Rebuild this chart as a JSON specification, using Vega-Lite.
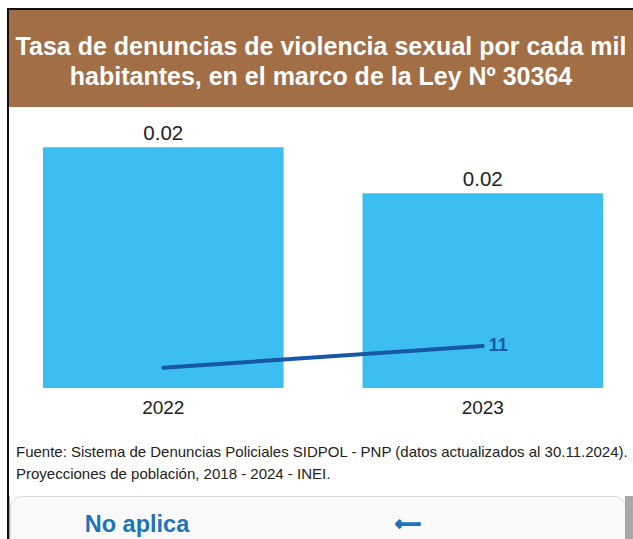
{
  "$schema": "https://vega.github.io/schema/vega-lite/v6.json",
  "background": "white",
  "padding": {"left": 7, "top": 8, "right": 0, "bottom": 0},
  "config": {"view": {"stroke": null}, "font": "Liberation Sans", "concat": {"spacing": 0}},
  "bounds": "flush",
  "spacing": 0,
  "vconcat": [
    {"width": 626, "height": 2, "view": {"fill": "#111111"}, "data": {"values": []}, "mark": "rect", "encoding": {}},
    {
      "hconcat": [
        {"width": 2, "height": 540, "view": {"fill": "#111111"}, "data": {"values": []}, "mark": "rect", "encoding": {}},
        {
          "vconcat": [
            {
              "width": 624, "height": 97,
              "view": {"fill": "#A26E46"},
              "data": {"values": [{"titulo": "Tasa de denuncias de violencia sexual por cada mil\nhabitantes, en el marco de la Ley Nº 30364"}]},
              "mark": {"type": "text", "lineBreak": "\n", "lineHeight": 30, "fontSize": 25, "fontWeight": "bold", "color": "white", "align": "center", "baseline": "middle", "dy": -11.5},
              "encoding": {"text": {"field": "titulo"}}
            },
            {
              "width": 624, "height": 281,
              "data": {"values": [
                {"anio": "2022", "tasa": 0.0242, "denuncias": 5.3},
                {"anio": "2023", "tasa": 0.01958, "denuncias": 11}
              ]},
              "encoding": {
                "x": {"field": "anio", "type": "nominal",
                  "scale": {"paddingInner": 0.247, "paddingOuter": 0.1, "align": 0.532},
                  "axis": {"title": null, "labelAngle": 0, "labelFontSize": 19, "labelColor": "#222222", "labelPadding": 10, "ticks": false, "tickSize": 0, "domain": false, "grid": false}}
              },
              "layer": [
                {
                  "encoding": {"y": {"field": "tasa", "type": "quantitative", "scale": {"domain": [0, 0.02825]}, "axis": null}},
                  "layer": [
                    {"mark": {"type": "bar", "color": "#3CBFF0"}},
                    {"mark": {"type": "text", "fontSize": 20.5, "color": "#222222", "baseline": "alphabetic", "dy": -7},
                     "encoding": {"text": {"field": "tasa", "type": "quantitative", "format": ".2f"}}}
                  ]
                },
                {
                  "encoding": {"y": {"field": "denuncias", "type": "quantitative", "scale": {"domain": [0, 73.6]}, "axis": null}},
                  "layer": [
                    {"mark": {"type": "line", "color": "#1757A6", "strokeWidth": 4, "strokeCap": "round"}},
                    {"transform": [{"filter": "datum.anio == '2023'"}],
                     "mark": {"type": "text", "align": "left", "baseline": "middle", "dx": 6, "fontSize": 18, "fontWeight": "bold", "color": "#1A5AA8"},
                     "encoding": {"text": {"field": "denuncias", "type": "quantitative", "format": "d"}}}
                  ]
                }
              ],
              "resolve": {"scale": {"y": "independent"}}
            },
            {"width": 624, "height": 108, "data": {"values": []}, "mark": "rect", "encoding": {}},
            {
              "hconcat": [
                {"width": 1, "height": 54, "view": {"fill": "#a9a9a9"}, "data": {"values": []}, "mark": "rect", "encoding": {}},
                {
                  "width": 615, "height": 54,
                  "view": {"fill": "#fafafa", "cornerRadius": 12, "stroke": "#d9d9d9"},
                  "title": {
                    "text": ["Fuente: Sistema de Denuncias Policiales SIDPOL - PNP (datos actualizados al 30.11.2024).", "Proyecciones de población, 2018 - 2024 - INEI."],
                    "anchor": "start", "fontSize": 15, "fontWeight": "normal", "color": "#222222", "lineHeight": 22, "offset": 14, "dx": 6, "frame": "group"
                  },
                  "data": {"values": [
                    {"campo": "Valor", "texto": "No aplica"},
                    {"campo": "Tendencia", "texto": "⟵"}
                  ]},
                  "encoding": {
                    "x": {"field": "campo", "type": "nominal", "sort": ["Valor", "Tendencia"], "scale": {"type": "point", "padding": 0.635, "align": 0.369}, "axis": null}
                  },
                  "layer": [
                    {"transform": [{"filter": "datum.campo == 'Valor'"}],
                     "mark": {"type": "text", "fontSize": 23.5, "fontWeight": "bold", "color": "#1E74B8", "baseline": "middle", "dy": 2},
                     "encoding": {"text": {"field": "texto"}}},
                    {"transform": [{"filter": "datum.campo == 'Tendencia'"}],
                     "mark": {"type": "text", "font": "DejaVu Sans", "fontSize": 18, "fontWeight": "bold", "color": "#1E74B8", "stroke": "#1E74B8", "strokeWidth": 1.6, "baseline": "middle", "dy": 2},
                     "encoding": {"text": {"field": "texto"}}}
                  ]
                },
                {"width": 8, "height": 54, "view": {"fill": "#a9a9a9"}, "data": {"values": []}, "mark": "rect", "encoding": {}}
              ],
              "spacing": 0,
              "bounds": "flush"
            }
          ],
          "spacing": 0,
          "bounds": "flush"
        }
      ],
      "spacing": 0,
      "bounds": "flush"
    }
  ]
}
